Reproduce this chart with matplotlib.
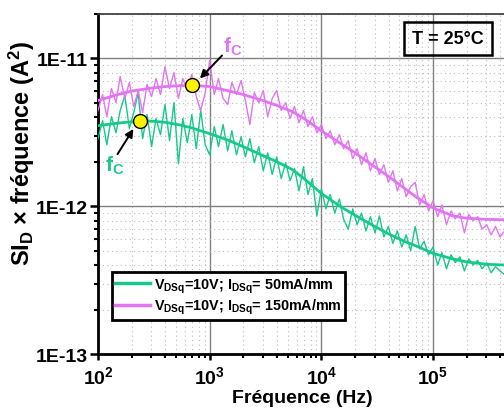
import numpy as np
import matplotlib
matplotlib.use("Agg")
import matplotlib.pyplot as plt
from matplotlib.ticker import FixedLocator, LogLocator, NullFormatter

# Fréquences de mesure (Hz)
freq = [100, 110, 120, 132, 145, 158, 174, 191, 209, 229, 251, 275, 302, 331, 363,
        398, 437, 479, 525, 575, 631, 692, 759, 832, 912,
        1000, 1100, 1200, 1320, 1450, 1580, 1740, 1910, 2090, 2290, 2510, 2750, 3020, 3310, 3630,
        3980, 4370, 4790, 5250, 5750, 6310, 6920, 7590, 8320, 9120,
        1.0e4, 1.1e4, 1.2e4, 1.32e4, 1.45e4, 1.58e4, 1.74e4, 1.91e4, 2.09e4, 2.29e4, 2.51e4, 2.75e4,
        3.02e4, 3.31e4, 3.63e4, 3.98e4, 4.37e4, 4.79e4, 5.25e4, 5.75e4, 6.31e4, 6.92e4, 7.59e4,
        8.32e4, 9.12e4,
        1.0e5, 1.1e5, 1.2e5, 1.32e5, 1.45e5, 1.58e5, 1.74e5, 1.91e5, 2.09e5, 2.29e5, 2.51e5, 2.75e5,
        3.02e5, 3.31e5, 3.63e5, 3.98e5, 4.37e5]

# SId x f mesuré, en 1e-12 A^2
meas_50 = [2.87, 3.80, 2.61, 4.04, 3.14, 4.44, 5.62, 3.35, 4.30, 5.88, 2.87, 4.17, 2.53, 3.92, 3.05,
           4.88, 2.78, 5.03, 1.94, 3.92, 2.69, 4.17, 2.45, 4.44, 2.61,
           2.23, 3.46, 2.53, 3.57, 2.37, 3.24, 2.23, 2.95, 2.16, 2.87, 1.97, 2.53, 1.74, 2.30, 1.64,
           2.16, 1.54, 1.97, 1.49, 1.80, 1.27, 1.85, 1.20, 1.54, 0.86,
           1.31, 0.96, 1.20, 0.90, 1.12, 0.82, 0.70, 0.96, 0.75, 0.90, 0.68, 0.85, 0.66, 0.86, 0.62,
           0.73, 0.56, 0.68, 0.53, 0.64, 0.50, 0.73, 0.515, 0.58, 0.47,
           0.53, 0.40, 0.485, 0.377, 0.47, 0.415, 0.455, 0.365, 0.44, 0.40, 0.43, 0.377, 0.415, 0.355,
           0.39, 0.365, 0.345]
meas_150 = [4.44, 5.70, 4.04, 6.26, 5.03, 7.55, 5.36, 6.88, 4.73, 6.07, 4.30, 6.67, 5.53, 7.32, 5.70,
            8.81, 6.26, 8.03, 5.36, 7.32, 6.07, 7.79, 5.53, 4.44, 5.88,
            9.69, 5.70, 7.32, 5.36, 4.88, 6.88, 5.70, 7.09, 5.19, 3.57, 5.88, 5.03, 6.07, 4.04, 5.36,
            6.07, 4.44, 5.03, 3.92, 4.73, 3.68, 4.44, 3.46, 4.04, 3.14,
            3.57, 2.87, 3.24, 2.61, 3.05, 2.45, 2.78, 2.10, 2.45, 1.91, 2.30, 1.74, 2.10, 1.64, 1.91,
            1.45, 1.74, 1.27, 1.54, 1.16, 1.36, 1.45, 1.02, 1.20, 0.93,
            1.09, 0.85, 1.02, 0.75, 0.93, 0.82, 0.90, 0.66, 0.88, 0.80, 0.85, 0.70, 0.75, 0.64,
            0.73, 0.62, 0.68]

# Courbes d'ajustement
fit_freq = [100, 150, 200, 300, 400, 550, 700, 1000, 1500, 2000, 3000, 4000, 5500, 7000,
            1e4, 1.5e4, 2e4, 3e4, 4e4, 5.5e4, 7e4, 1e5, 1.5e5, 2e5, 3e5, 4.4e5]
fit_50 = [3.51, 3.65, 3.73, 3.77, 3.70, 3.54, 3.38, 3.10, 2.78, 2.53, 2.20, 2.00, 1.77, 1.54,
          1.22, 0.99, 0.87, 0.73, 0.65, 0.58, 0.54, 0.48, 0.44, 0.42, 0.405, 0.40]
fit_150 = [5.19, 5.70, 6.02, 6.30, 6.46, 6.55, 6.57, 6.46, 6.02, 5.70, 5.19, 4.81, 4.37, 3.92,
           3.24, 2.65, 2.30, 1.85, 1.59, 1.33, 1.16, 0.975, 0.86, 0.83, 0.815, 0.81]

# Fréquences de coupure
fc_50 = (240, 3.76)
fc_150 = (700, 6.57)

labels = [r"$\mathbf{V_{DSq}}$=10V; $\mathbf{I_{DSq}}$= 50mA/mm",
          r"$\mathbf{V_{DSq}}$=10V; $\mathbf{I_{DSq}}$= 150mA/mm"]

green = "#16C98A"
violet = "#E374F2"

plt.rcParams["font.family"] = ["Liberation Sans", "DejaVu Sans"]
plt.rcParams["font.weight"] = "bold"
plt.rcParams["mathtext.fontset"] = "custom"
plt.rcParams["mathtext.rm"] = "Liberation Sans:bold"
plt.rcParams["mathtext.bf"] = "Liberation Sans:bold"
plt.rcParams["mathtext.it"] = "Liberation Sans:bold:italic"

fig = plt.figure(figsize=(5.04, 4.10), dpi=100)
ax = fig.add_axes([0.1944, 0.1341, 0.8056, 0.8293])

sc = 1e-12
f = np.array(freq)
ax.plot(f, np.array(meas_50) * sc, color=green, lw=1.0, zorder=3)
ax.plot(f, np.array(meas_150) * sc, color=violet, lw=1.0, zorder=3)
l1, = ax.plot(fit_freq, np.array(fit_50) * sc, color=green, lw=2.0, zorder=4)
l2, = ax.plot(fit_freq, np.array(fit_150) * sc, color=violet, lw=2.0, zorder=4)

# points fc
for fx, fy in [fc_50, fc_150]:
    ax.plot(fx, fy * sc, "o", ms=10, mfc="#FFF200", mec="black", mew=1.0, zorder=6)

ax.annotate("", xy=(786, 7.1e-12), xytext=(1343, 1.08e-11),
            arrowprops=dict(arrowstyle="-|>", color="black", lw=1.4, mutation_scale=12), zorder=7)
ax.annotate("", xy=(214, 3.46e-12), xytext=(145, 2.17e-12),
            arrowprops=dict(arrowstyle="-|>", color="black", lw=1.4, mutation_scale=12), zorder=7)
ax.text(1330, 1.115e-11, r"$\mathbf{f_C}$", color=violet, fontsize=15, ha="left", va="baseline")
ax.text(116, 1.74e-12, r"$\mathbf{f_C}$", color=green, fontsize=15, ha="left", va="baseline")

ax.set_xscale("log")
ax.set_yscale("log")
ax.set_xlim(100, 4.32e5)
ax.set_ylim(1e-13, 2e-11)

ax.xaxis.set_major_locator(FixedLocator([1e2, 1e3, 1e4, 1e5]))
ax.set_xticklabels([r"$\mathbf{10^{2}}$", r"$\mathbf{10^{3}}$", r"$\mathbf{10^{4}}$", r"$\mathbf{10^{5}}$"])
ax.yaxis.set_major_locator(FixedLocator([1e-13, 1e-12, 1e-11]))
ax.set_yticklabels(["1E-13", "1E-12", "1E-11"])
ax.xaxis.set_minor_locator(LogLocator(base=10, subs=range(2, 10)))
ax.yaxis.set_minor_locator(LogLocator(base=10, subs=range(2, 10)))
ax.xaxis.set_minor_formatter(NullFormatter())
ax.yaxis.set_minor_formatter(NullFormatter())

ax.tick_params(axis="both", which="major", direction="out", labelsize=14, width=1.8)
ax.tick_params(axis="y", which="major", length=6, pad=1.5)
ax.tick_params(axis="x", which="major", length=4, pad=4)
ax.tick_params(axis="both", which="minor", direction="out", length=3, width=1.5)

ax.grid(True, which="major", color="#808080", lw=1.0, zorder=1)
ax.grid(True, which="minor", color="#bdbdbd", lw=0.8, ls=(0, (1, 3)), zorder=1)
ax.set_axisbelow(True)

for s in ["left", "bottom"]:
    ax.spines[s].set_linewidth(2.0)
ax.spines["top"].set_linewidth(1.2)
ax.spines["top"].set_color("#333333")
ax.spines["right"].set_visible(False)

ax.set_xlabel("Fréquence (Hz)", fontsize=14, fontweight="bold")
ax.set_ylabel(r"SI$_\mathbf{D}$ × fréquence (A$^\mathbf{2}$)", fontsize=17, fontweight="bold")
ax.xaxis.set_label_coords(0.503, -0.104)
ax.yaxis.set_label_coords(-0.149, 0.594)

leg = ax.legend([l1, l2], labels, loc="lower left", bbox_to_anchor=(0.034, 0.1),
                borderaxespad=0, fancybox=False, framealpha=1, edgecolor="black",
                prop={"size": 10.4, "weight": "bold"}, handlelength=2.4, handletextpad=0.25,
                labelspacing=0.18, borderpad=0.25)
leg.get_frame().set_linewidth(2.0)
for h in leg.get_lines():
    h.set_linewidth(2.5)

ax.text(0.863, 0.929, "T = 25°C", transform=ax.transAxes, fontsize=13, fontweight="bold",
        ha="center", va="center",
        bbox=dict(boxstyle="square,pad=0.45", fc="none", ec="black", lw=1.8), zorder=2)

fig.savefig("out.png", dpi=100)
